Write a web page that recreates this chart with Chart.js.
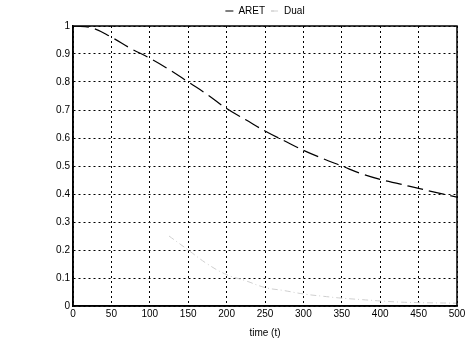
<!DOCTYPE html>
<html>
<head>
<meta charset="utf-8">
<script src="https://cdn.jsdelivr.net/npm/chart.js@4.4.0/dist/chart.umd.min.js"></script>
<style>
  html, body { margin: 0; padding: 0; background: #fff; }
  #wrap { width: 471px; height: 339px; }
</style>
</head>
<body>
<div id="wrap"><canvas id="chart"></canvas></div>
<script>
// time axis (t)
const times = [0, 25, 50, 75, 100, 125, 150, 175, 200, 225, 250, 275, 300, 325, 350, 375, 400, 425, 450, 475, 500];
// ARET curve
const aretValues = [1.0, 0.993, 0.96, 0.92, 0.885, 0.845, 0.80, 0.755, 0.705, 0.665, 0.625, 0.59, 0.556, 0.527, 0.50, 0.473, 0.452, 0.436, 0.42, 0.404, 0.389];
// Dual curve, very faint on the scan (only visible from ~125 on)
const dualValues = [null, null, null, null, null, 0.25, 0.2, 0.15, 0.112, 0.09, 0.066, 0.055, 0.043, 0.035, 0.028, 0.023, 0.018, 0.014, 0.012, 0.011, 0.01];
const xTicks = [0, 50, 100, 150, 200, 250, 300, 350, 400, 450, 500];
const yTicks = ['0', '0.1', '0.2', '0.3', '0.4', '0.5', '0.6', '0.7', '0.8', '0.9', '1'];

const font = { family: 'Arial, "Liberation Sans", sans-serif', size: 10 };

const toPoints = (vals) => times.map((t, i) => ({ x: t, y: vals[i] }));

new Chart(document.getElementById('chart'), {
  type: 'line',
  data: {
    datasets: [
      {
        label: 'ARET',
        data: toPoints(aretValues),
        borderColor: '#000',
        backgroundColor: 'rgba(0,0,0,0)',
        borderWidth: 1.2,
        borderDash: [16, 6],
        pointRadius: 0,
        tension: 0.4,
      },
      {
        label: 'Dual',
        data: toPoints(dualValues),
        borderColor: '#cfcfcf',
        backgroundColor: 'rgba(0,0,0,0)',
        borderWidth: 1,
        borderDash: [6, 3, 1, 3],
        pointRadius: 0,
        tension: 0.4,
        spanGaps: false,
      },
    ],
  },
  options: {
    responsive: true,
    maintainAspectRatio: false,
    animation: false,
    layout: { padding: { left: 0, right: 14, top: 0, bottom: 0 } },
    plugins: {
      tooltip: { enabled: false },
      legend: {
        display: true,
        position: 'top',
        fullSize: false, // centre over the plot area, not the whole page
        labels: {
          color: '#000',
          font: font,
          boxWidth: 8,
          boxHeight: 0,
          padding: 6,
        },
      },
    },
    scales: {
      x: {
        type: 'linear',
        min: 0,
        max: 500,
        afterBuildTicks: (scale) => { scale.ticks = xTicks.map(v => ({ value: v })); },
        afterFit: (scale) => { scale.height = 33; },
        ticks: { color: '#000', font: font, padding: 2, maxRotation: 0 },
        grid: { color: '#000', lineWidth: 1, drawTicks: false },
        border: { display: true, color: '#000', width: 1.5, dash: [2, 3] },
        title: { display: true, text: 'time (t)', color: '#000', font: font, padding: { top: 1, bottom: 0 } },
      },
      y: {
        type: 'linear',
        min: 0,
        max: 1,
        afterBuildTicks: (scale) => { scale.ticks = yTicks.map(v => ({ value: parseFloat(v) })); },
        afterFit: (scale) => { scale.width = 73; },
        ticks: {
          color: '#000',
          font: font,
          padding: 3,
          callback: (v) => yTicks.find(s => parseFloat(s) === v) || String(v),
        },
        grid: { color: '#000', lineWidth: 1, drawTicks: false },
        border: { display: true, color: '#000', width: 1.5, dash: [2, 3] },
      },
    },
  },
  plugins: [{
    // solid frame round the plot area, like the MATLAB axes box
    id: 'frame',
    afterDraw(chart) {
      const { ctx, chartArea: a } = chart;
      ctx.save();
      ctx.strokeStyle = '#000';
      ctx.lineWidth = 1.5;
      ctx.setLineDash([]);
      ctx.strokeRect(a.left, a.top, a.right - a.left, a.bottom - a.top);
      ctx.restore();
    },
  }],
});
</script>
</body>
</html>
